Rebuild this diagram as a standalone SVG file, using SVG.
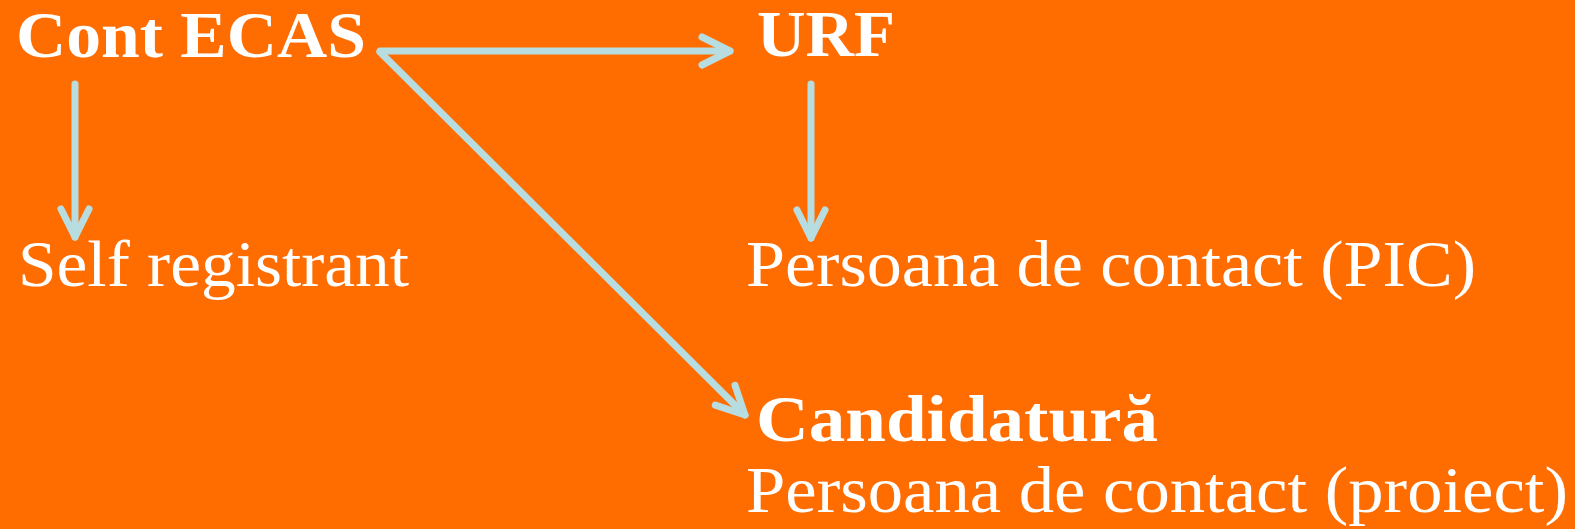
<svg xmlns="http://www.w3.org/2000/svg" width="1575" height="529" viewBox="0 0 1575 529">
<style>
.t{font-family:"Liberation Serif","DejaVu Serif",serif;fill:#FFFFFF;font-size:65px}
.b{font-weight:bold}
.c{fill:none;stroke:#B7DDE0;stroke-width:7;stroke-linecap:round;stroke-linejoin:round}
</style>
<defs>
<marker id="ah" markerUnits="userSpaceOnUse" viewBox="-34 -20 40 40" refX="0" refY="0" markerWidth="40" markerHeight="40" orient="auto">
<path d="M-28,-14 L0,0 L-28,14" fill="none" stroke="#B7DDE0" stroke-width="7" stroke-linecap="round" stroke-linejoin="round"/>
</marker>
</defs>
<rect x="0" y="0" width="1575" height="529" fill="#FF6C00"/>
<g id="connectors">
<path class="c" d="M380,51 L730,51" marker-end="url(#ah)"/>
<path class="c" d="M380,52 L745,415" marker-end="url(#ah)"/>
<path class="c" d="M75,84 L75,237" marker-end="url(#ah)"/>
<path class="c" d="M811,84 L811,238" marker-end="url(#ah)"/>
</g>
<g id="node-cont-ecas"><text class="t b" x="16" y="57" textLength="350" lengthAdjust="spacingAndGlyphs">Cont ECAS</text></g>
<g id="node-urf"><text class="t b" x="757" y="56" textLength="138" lengthAdjust="spacingAndGlyphs">URF</text></g>
<g id="node-self"><text class="t" x="18" y="286" textLength="391" lengthAdjust="spacingAndGlyphs">Self registrant</text></g>
<g id="node-pic"><text class="t" x="746" y="286" textLength="730" lengthAdjust="spacingAndGlyphs">Persoana de contact (PIC)</text></g>
<g id="node-candidatura">
<text class="t b" x="756" y="441" textLength="402" lengthAdjust="spacingAndGlyphs">Candidatură</text>
<text class="t" x="746" y="512" textLength="822" lengthAdjust="spacingAndGlyphs">Persoana de contact (proiect)</text>
</g>
</svg>
